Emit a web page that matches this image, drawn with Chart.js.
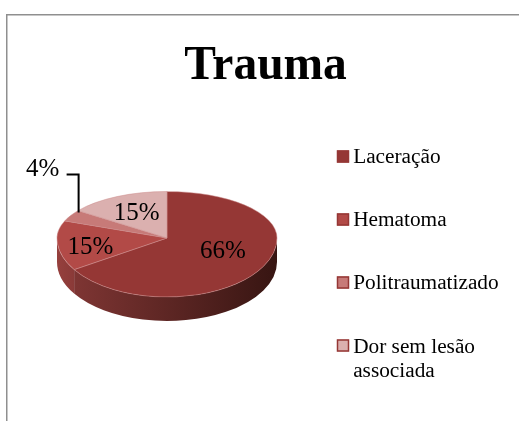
<!DOCTYPE html>
<html><head><meta charset="utf-8">
<style>html,body{margin:0;padding:0;background:#fff}#w{width:519px;height:421px;position:relative}</style>
<script src="https://cdn.jsdelivr.net/npm/chart.js@4"></script>
</head><body><div id="w"><canvas id="c" width="519" height="421"></canvas></div>
<script>
const chartTitle = 'Trauma';
const categories = ['Laceração', 'Hematoma', 'Politraumatizado', ['Dor sem lesão', 'associada']];
const values = [66, 15, 4, 15];
const sliceColors = ['#953735', '#B24A47', '#C77A78', '#DBB0AF'];
const wallFrom = ['#7E3533', '#96403D', '#A86663', '#B98F8D'];
const wallTo = ['#371512', '#8A3A38', '#A86663', '#B98F8D'];
const labelReach = [0.57, 0.69, 0, 0.65];
const labelNudgeX = [1, -1, -1, 2];
const labelNudgeY = [-3, 6, 2, 2];

const SERIF = '"Liberation Serif", "Times New Roman", serif';
const PIE = {cx: 167, apex: 238, up: 46.5 / 110, down: 59 / 110, depth: 24};
const LEGEND_LEFT = 295, LEGEND_TOP = 104.5;

function tf(ctx, arc, sy) {
  ctx.translate(PIE.cx, PIE.apex);
  ctx.scale(1, sy);
  ctx.translate(-arc.x, -arc.y);
}
const pie3d = {
  id: 'pie3d',
  beforeDraw(chart) {
    const ctx = chart.ctx;
    ctx.save();
    ctx.fillStyle = '#fff';
    ctx.fillRect(0, 0, chart.width, chart.height);
    ctx.fillStyle = '#8f8f8f';
    ctx.fillRect(6, 14, chart.width - 6, 1.5);
    ctx.fillRect(6, 14, 1.5, chart.height - 14);
    ctx.restore();
  },
  afterLayout(chart) {
    chart.legend.left = LEGEND_LEFT;
    chart.legend.top = LEGEND_TOP;
  },
  beforeDatasetsDraw(chart) {
    const ctx = chart.ctx, meta = chart.getDatasetMeta(0);
    const R = meta.data[0].outerRadius, ry = R * PIE.down;
    meta.data.forEach((arc, i) => {
      const a0 = Math.max(arc.startAngle, 0), a1 = Math.min(arc.endAngle, Math.PI);
      if (a1 <= a0) return;
      const g = ctx.createLinearGradient(PIE.cx + R * Math.cos(a1), 0, PIE.cx + R * Math.cos(a0), 0);
      g.addColorStop(0, wallFrom[i]);
      g.addColorStop(1, wallTo[i]);
      ctx.beginPath();
      ctx.ellipse(PIE.cx, PIE.apex, R, ry, 0, a0, a1);
      ctx.ellipse(PIE.cx, PIE.apex + PIE.depth, R, ry, 0, a1, a0, true);
      ctx.closePath();
      ctx.fillStyle = g;
      ctx.fill();
    });
    const a = meta.data[0];
    ctx.save();
    ctx.beginPath();
    ctx.rect(0, 0, chart.width, PIE.apex);
    ctx.clip();
    tf(ctx, a, PIE.up);
    meta.controller.draw();
    ctx.restore();
    ctx.save();
    ctx.beginPath();
    ctx.rect(0, PIE.apex, chart.width, chart.height - PIE.apex);
    ctx.clip();
    tf(ctx, a, PIE.down);
  },
  afterDatasetsDraw(chart) {
    const ctx = chart.ctx, meta = chart.getDatasetMeta(0);
    ctx.restore();
    const R = meta.data[0].outerRadius;
    ctx.save();
    ctx.fillStyle = '#000';
    ctx.font = '25px ' + SERIF;
    ctx.textBaseline = 'middle';
    ctx.textAlign = 'center';
    meta.data.forEach((arc, i) => {
      const mid = (arc.startAngle + arc.endAngle) / 2;
      const s = Math.sin(mid);
      const txt = values[i] + '%';
      const px = PIE.cx + R * Math.cos(mid), py = PIE.apex + R * s * (s < 0 ? PIE.up : PIE.down);
      if (labelReach[i]) {
        const r = R * labelReach[i];
        ctx.fillText(txt, PIE.cx + r * Math.cos(mid) + labelNudgeX[i], PIE.apex + r * s * (s < 0 ? PIE.up : PIE.down) + labelNudgeY[i]);
      } else {
        const lx = px + 8, ty = py - 41;
        ctx.fillText(txt, lx - 35 + labelNudgeX[i], ty - 7 + labelNudgeY[i]);
        ctx.beginPath();
        ctx.moveTo(lx - 12, ty);
        ctx.lineTo(lx, ty);
        ctx.lineTo(lx, py - 3);
        ctx.strokeStyle = '#000';
        ctx.lineWidth = 2;
        ctx.stroke();
      }
    });
    ctx.restore();
  },
  afterDraw(chart) {
    const ctx = chart.ctx, lg = chart.legend;
    const x = lg.left + lg.options.labels.padding;
    ctx.save();
    lg.legendHitBoxes.forEach((h, i) => {
      const y = lg.top + lg.options.labels.padding + 10 + 63 * i;
      ctx.fillStyle = sliceColors[i];
      ctx.strokeStyle = '#953735';
      ctx.lineWidth = 1.5;
      ctx.fillRect(x, y - 6, 12, 12);
      ctx.strokeRect(x + .5, y - 5.5, 11, 11);
    });
    ctx.restore();
  }
};

new Chart(document.getElementById('c'), {
  type: 'pie',
  data: {
    labels: categories,
    datasets: [{
      data: values,
      backgroundColor: sliceColors,
      borderColor: 'rgba(205,140,140,0.7)',
      borderWidth: 1,
      radius: 110
    }]
  },
  options: {
    responsive: false,
    animation: false,
    layout: {padding: {left: 12, right: 0, top: 0, bottom: 0}},
    plugins: {
      tooltip: {enabled: false},
      title: {
        display: true,
        text: chartTitle,
        color: '#000',
        font: {family: SERIF, size: 47.5, weight: 'bold', lineHeight: 1.2},
        padding: {top: 38, bottom: 13}
      },
      legend: {
        position: 'right',
        align: 'start',
        labels: {
          color: '#000',
          font: {family: SERIF, size: 21.3, lineHeight: 24 / 21.3},
          boxWidth: 5.5,
          boxHeight: 12,
          padding: 42,
          generateLabels(chart) {
            return categories.map((t, i) => ({
              text: t, fillStyle: 'rgba(0,0,0,0)', strokeStyle: 'rgba(0,0,0,0)', lineWidth: 0, index: i, hidden: false
            }));
          }
        }
      }
    }
  },
  plugins: [pie3d]
});
</script></body></html>
